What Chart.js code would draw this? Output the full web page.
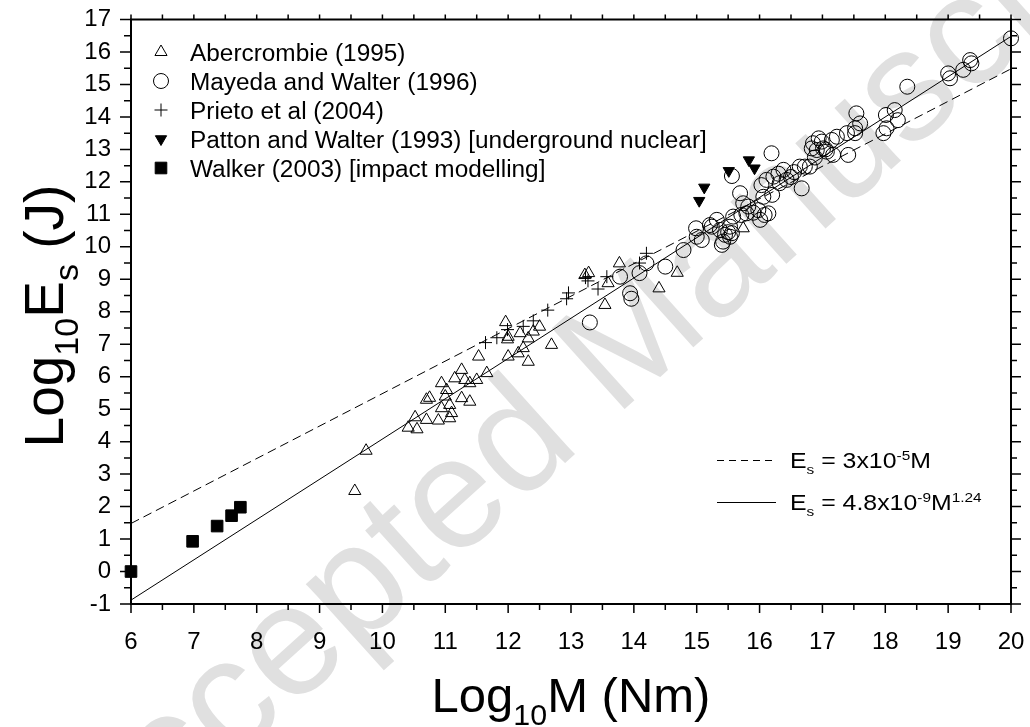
<!DOCTYPE html>
<html><head><meta charset="utf-8">
<script src="https://cdn.jsdelivr.net/npm/chart.js@4.4.0/dist/chart.umd.min.js"></script>
<style>html,body{margin:0;padding:0;background:#fff;overflow:hidden}#wrap{position:relative;width:1030px;height:727px}</style>
</head><body><div id="wrap"><canvas id="c" width="1030" height="727"></canvas></div>
<script>
const FONT = "'Liberation Sans', Arial, Helvetica, sans-serif";

const xTicks = [6,7,8,9,10,11,12,13,14,15,16,17,18,19,20];
const yTicks = [-1,0,1,2,3,4,5,6,7,8,9,10,11,12,13,14,15,16,17];

const abercrombieM = [9.56,9.74,10.41,10.55,10.52,10.70,10.89,10.70,10.75,10.94,11.02,11.00,10.94,11.07,11.10,11.07,11.26,11.31,11.39,11.50,11.26,11.39,11.66,11.53,12.00,12.16,12.32,12.00,12.19,11.96,12.32,12.50,12.40,11.99,12.69,13.28,13.22,13.54,13.59,13.77,14.40,14.69,15.74,11.15,12.24];
const abercrombieE = [2.48,3.72,4.43,4.38,4.75,4.67,4.65,5.29,5.35,5.80,5.59,5.39,5.03,5.13,4.88,4.72,6.21,5.90,5.80,5.90,5.34,5.23,6.11,6.62,6.62,6.72,6.46,7.23,7.34,7.68,7.18,7.54,7.39,7.15,6.98,9.19,9.13,8.21,8.88,9.49,8.72,9.20,10.57,5.95,6.88];

const mayedaM = [13.30,13.94,13.96,13.78,14.09,14.20,14.50,14.79,14.99,15.00,
                 15.08,15.21,15.24,15.32,15.37,15.40,15.45,15.50,15.53,15.53,
                 15.42,15.56,15.58,15.69,15.71,15.74,15.79,15.82,15.98,16.01,
                 16.06,16.08,16.14,16.03,16.11,16.22,16.32,16.43,16.38,16.64,
                 16.67,16.55,16.72,16.80,16.85,16.91,16.83,16.94,15.56,16.50,
                 16.19,16.99,17.01,17.07,17.15,17.17,17.23,17.39,17.41,17.52,
                 17.54,17.60,17.52,17.97,18.02,18.01,18.15,18.20,18.35,19.00,
                 19.03,19.24,19.35,19.37,20.00,16.20,16.30,17.05,16.88,15.90];
const mayedaE = [7.67,8.57,8.40,9.08,9.19,9.49,9.39,9.90,10.57,10.31,
                 10.21,10.67,10.62,10.83,10.52,10.06,10.37,10.45,10.62,10.31,
                 10.16,10.42,10.93,11.65,10.98,11.34,11.03,11.24,11.13,10.83,
                 11.54,10.98,11.03,11.90,12.06,12.16,11.96,12.06,12.37,12.47,
                 11.80,12.30,12.47,12.47,13.19,12.98,13.03,13.34,12.18,12.15,
                 12.88,13.24,13.03,12.93,13.29,12.83,13.39,13.50,12.83,13.50,
                 14.11,13.80,13.65,13.50,13.65,14.06,14.21,13.90,14.93,15.34,
                 15.19,15.45,15.75,15.65,16.42,11.60,12.25,13.00,12.75,11.05];

const prietoM = [11.64,11.82,11.99,12.24,12.40,12.63,12.93,12.96,13.23,13.27,13.43,13.57,14.09,14.20];
const prietoE = [7.05,7.20,7.45,7.55,7.72,8.05,8.40,8.58,9.05,8.95,8.70,9.08,9.50,9.80];

const pattonM = [15.04,15.12,15.51,15.83,15.92];
const pattonE = [11.42,11.83,12.34,12.67,12.42];

const walkerM = [6.00,6.98,7.37,7.60,7.74];
const walkerE = [0.00,0.93,1.40,1.72,1.98];

const fitM = [6, 20];
const fitLinearE = [1.48, 15.48];
const fitPowerE = [-0.88, 16.48];

const legendLabels = ['Abercrombie (1995)','Mayeda and Walter (1996)','Prieto et al (2004)','Patton and Walter (1993) [underground nuclear]','Walker (2003) [impact modelling]'];

const pts = (xs, ys) => xs.map((x, i) => ({x, y: ys[i]}));
const f = (s, style) => (style || '') + ' ' + s + 'px ' + FONT;

const markerStyles = [
  {pointStyle:'triangle', radius:7, rotation:0, borderWidth:1, fill:'rgba(0,0,0,0)'},
  {pointStyle:'circle', radius:7.5, rotation:0, borderWidth:1, fill:'rgba(0,0,0,0)'},
  {pointStyle:'cross', radius:6.5, rotation:0, borderWidth:1, fill:'rgba(0,0,0,0)'},
  {pointStyle:'triangle', radius:6.5, rotation:180, borderWidth:1, fill:'#000'},
  {pointStyle:'rect', radius:8.2, rotation:0, borderWidth:1, fill:'#000'}
];
const seriesData = [pts(abercrombieM, abercrombieE), pts(mayedaM, mayedaE), pts(prietoM, prietoE), pts(pattonM, pattonE), pts(walkerM, walkerE)];

function rich(ctx, parts, x, y, size, align, sx) {
  sx = sx || 1;
  ctx.save();
  ctx.textBaseline = 'alphabetic';
  ctx.textAlign = 'left';
  let w = 0;
  parts.forEach(p => { ctx.font = f((p.sub || p.sup) ? size * 0.62 : size); w += ctx.measureText(p.t).width; });
  const startX = align === 'center' ? x - w * sx / 2 : x;
  ctx.translate(startX, y);
  ctx.scale(sx, 1);
  let cx = 0;
  parts.forEach(p => {
    const s = (p.sub || p.sup) ? size * 0.62 : size;
    ctx.font = f(s);
    const dy = p.sub ? size * 0.27 : (p.sup ? -size * 0.36 : 0);
    ctx.fillText(p.t, cx, dy);
    cx += ctx.measureText(p.t).width;
  });
  ctx.restore();
}

const decor = {
  id: 'decor',
  beforeDraw(chart) {
    const ctx = chart.ctx;
    ctx.save();
    ctx.translate(612, 362);
    ctx.rotate(-42 * Math.PI / 180);
    ctx.font = f(158);
    ctx.fillStyle = '#e0e0e0';
    ctx.textAlign = 'center';
    ctx.textBaseline = 'middle';
    ctx.fillText('Accepted Manuscript', 0, 0);
    ctx.restore();
  },
  beforeDatasetsDraw(chart) {
    const ctx = chart.ctx, a = chart.chartArea;
    ctx.save();
    ctx.strokeStyle = '#000';
    ctx.lineWidth = 2;
    ctx.strokeRect(a.left, a.top, a.right - a.left, a.bottom - a.top);
    ctx.restore();
  },
  afterDraw(chart) {
    const ctx = chart.ctx, a = chart.chartArea;
    const xs = chart.scales.x, ys = chart.scales.y;
    ctx.save();
    ctx.strokeStyle = '#000';
    ctx.lineWidth = 1.5;
    ctx.beginPath();
    for (let v = xTicks[0]; v <= xTicks[xTicks.length - 1] + 1e-9; v += 0.5) {
      const px = xs.getPixelForValue(v);
      const major = Math.abs(v - Math.round(v)) < 1e-9;
      ctx.moveTo(px, a.bottom); ctx.lineTo(px, a.bottom + (major ? 9 : 6));
      ctx.moveTo(px, a.top); ctx.lineTo(px, a.top - 5);
    }
    for (let v = yTicks[0]; v <= yTicks[yTicks.length - 1] + 1e-9; v += 0.5) {
      const py = ys.getPixelForValue(v);
      const major = Math.abs(v - Math.round(v)) < 1e-9;
      ctx.moveTo(a.left, py); ctx.lineTo(a.left - (major ? 11 : 7), py);
      ctx.moveTo(a.right, py); ctx.lineTo(a.right + (major ? 10 : 6), py);
    }
    ctx.stroke();

    // symbol legend
    legendLabels.forEach((lab, i) => {
      const y = 52 + i * 29;
      const m = markerStyles[i];
      ctx.strokeStyle = '#000';
      ctx.fillStyle = m.fill;
      ctx.lineWidth = m.borderWidth;
      Chart.helpers.drawPoint(ctx, {pointStyle: m.pointStyle, radius: m.radius, rotation: m.rotation, borderWidth: m.borderWidth}, 161, y);
      ctx.fillStyle = '#000';
      rich(ctx, [{t: lab}], 190, y + 8.5, 23, 'left', 1.06);
    });

    // line legend
    ctx.strokeStyle = '#000';
    ctx.lineWidth = 1;
    ctx.setLineDash([7, 5]);
    ctx.beginPath(); ctx.moveTo(717, 460.5); ctx.lineTo(776, 460.5); ctx.stroke();
    ctx.setLineDash([]);
    ctx.beginPath(); ctx.moveTo(717, 502.5); ctx.lineTo(776, 502.5); ctx.stroke();
    ctx.fillStyle = '#000';
    rich(ctx, [{t:'E'},{t:'s',sub:true},{t:' = 3x10'},{t:'-5',sup:true},{t:'M'}], 790, 468, 22, 'left', 1.13);
    rich(ctx, [{t:'E'},{t:'s',sub:true},{t:' = 4.8x10'},{t:'-9',sup:true},{t:'M'},{t:'1.24',sup:true}], 790, 510, 22, 'left', 1.13);

    // axis titles
    rich(ctx, [{t:'Log'},{t:'10',sub:true},{t:'M (Nm)'}], (a.left + a.right) / 2, 712, 49, 'center');
    ctx.save();
    ctx.translate(63, 316);
    ctx.rotate(-Math.PI / 2);
    rich(ctx, [{t:'Log'},{t:'10',sub:true},{t:'E'},{t:'s',sub:true},{t:' (J)'}], 0, 0, 55, 'center');
    ctx.restore();
    ctx.restore();
  }
};

const mk = (i, label) => ({
  label, data: seriesData[i], type: 'scatter', showLine: false, clip: false,
  pointStyle: markerStyles[i].pointStyle, pointRadius: markerStyles[i].radius, pointHoverRadius: markerStyles[i].radius,
  rotation: markerStyles[i].rotation, pointBorderWidth: markerStyles[i].borderWidth,
  pointBorderColor: '#000', pointBackgroundColor: markerStyles[i].fill,
  borderColor: '#000', backgroundColor: markerStyles[i].fill
});

new Chart(document.getElementById('c'), {
  type: 'scatter',
  data: {
    datasets: [
      mk(4, legendLabels[4]), mk(3, legendLabels[3]), mk(2, legendLabels[2]), mk(0, legendLabels[0]), mk(1, legendLabels[1]),
      {label: 'Es = 3x10^-5 M', data: pts(fitM, fitLinearE), showLine: true, borderColor: '#000', borderWidth: 1, borderDash: [9, 5], pointRadius: 0, fill: false, order: 10},
      {label: 'Es = 4.8x10^-9 M^1.24', data: pts(fitM, fitPowerE), showLine: true, borderColor: '#000', borderWidth: 1, pointRadius: 0, fill: false, order: 10}
    ]
  },
  options: {
    responsive: false, animation: false, devicePixelRatio: 1,
    layout: {padding: {top: 19.5, right: 19, left: 0, bottom: 0}},
    plugins: {legend: {display: false}, tooltip: {enabled: false}},
    scales: {
      x: {
        type: 'linear', min: 6, max: 20,
        afterBuildTicks: s => { s.ticks = xTicks.map(v => ({value: v})); },
        afterFit: s => { s.height = 123; },
        ticks: {font: {family: FONT, size: 24}, color: '#000', padding: 0, maxRotation: 0, autoSkip: false},
        grid: {display: false, drawTicks: true, tickLength: 24}, border: {display: false}
      },
      y: {
        type: 'linear', min: -1, max: 17,
        afterBuildTicks: s => { s.ticks = yTicks.map(v => ({value: v})); },
        afterFit: s => { s.width = 131; },
        ticks: {font: {family: FONT, size: 24}, color: '#000', padding: 0, autoSkip: false},
        grid: {display: false, drawTicks: true, tickLength: 20}, border: {display: false}
      }
    }
  },
  plugins: [decor]
});
</script>
</body></html>
